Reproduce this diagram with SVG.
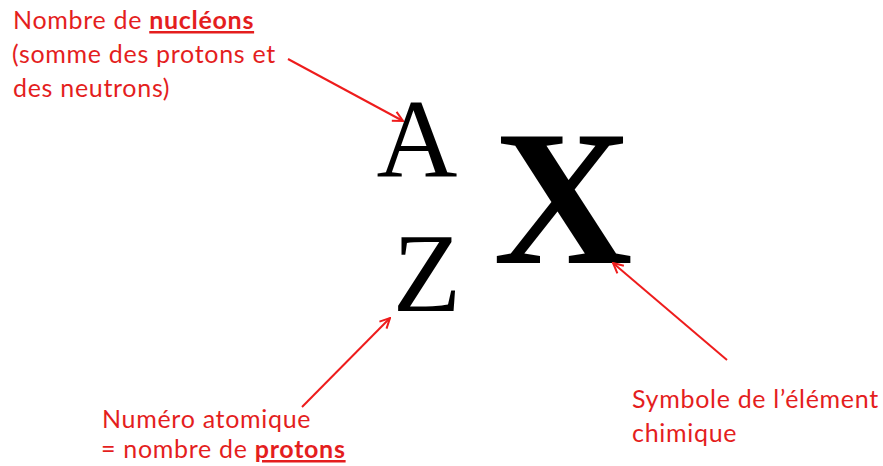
<svg xmlns="http://www.w3.org/2000/svg" width="883" height="466" viewBox="0 0 883 466">
<style>
.lbl{font-family:Lato,"Open Sans","Liberation Sans",sans-serif;font-size:25px;letter-spacing:0.7px;fill:#e41e1e}
.b{font-weight:bold;text-decoration:underline}
.sym{font-family:"Liberation Serif","Times New Roman",serif;fill:#000}
.arr{stroke:#ee1c1c;stroke-width:2;fill:none;marker-end:url(#ah)}
</style>
<defs>
<marker id="ah" viewBox="0 0 12 12" refX="11" refY="6" markerWidth="12" markerHeight="12" markerUnits="userSpaceOnUse" orient="auto">
<polyline points="1,1 11,6 1,11" fill="none" stroke="#ee1c1c" stroke-width="2"/>
</marker>
</defs>
<rect width="883" height="466" fill="#fff"/>
<g id="label-nucleons">
<text class="lbl" x="13" y="29">Nombre de <tspan class="b">nucléons</tspan></text>
<text class="lbl" x="12" y="63">(somme des protons et</text>
<text class="lbl" x="13" y="97">des neutrons)</text>
</g>
<g id="symbol-A"><text class="sym" x="417" y="177" font-size="112" text-anchor="middle">A</text></g>
<g id="symbol-Z"><text class="sym" x="427" y="311" font-size="112" text-anchor="middle">Z</text></g>
<g id="symbol-X"><text class="sym" x="563" y="263" font-size="193" font-weight="bold" text-anchor="middle">X</text></g>
<g id="label-protons">
<text class="lbl" x="102" y="428">Numéro atomique</text>
<text class="lbl" x="101" y="458">= nombre de <tspan class="b">protons</tspan></text>
</g>
<g id="label-element">
<text class="lbl" x="632" y="408">Symbole de l’élément</text>
<text class="lbl" x="632" y="442">chimique</text>
</g>
<g id="connectors">
<line class="arr" x1="288" y1="59" x2="403" y2="121"/>
<line class="arr" x1="302" y1="407" x2="390" y2="318"/>
<line class="arr" x1="727" y1="360" x2="613" y2="263"/>
</g>
</svg>
